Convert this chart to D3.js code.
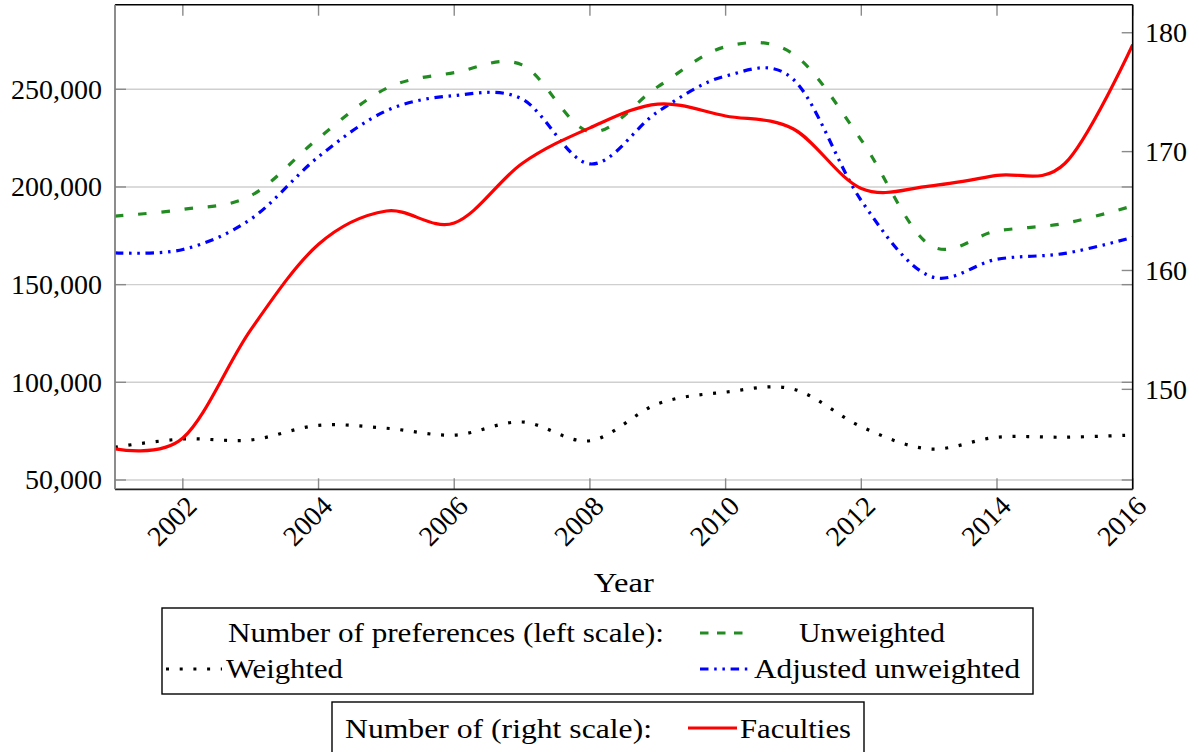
<!DOCTYPE html>
<html><head><meta charset="utf-8">
<script src="https://cdn.jsdelivr.net/npm/d3@7"></script>
</head><body style="margin:0;background:#fff">
<svg id="c" width="1199" height="752" font-family="Liberation Serif" style="font-family: 'Liberation Serif', serif"></svg>
<script>
// ---------- data ----------
const years = [2001,2002,2003,2004,2005,2006,2007,2008,2009,2010,2011,2012,2013,2014,2015,2016];
const weighted   = [66800,71000,70500,78000,76500,73000,79700,70100,89000,95000,96500,77300,65900,71900,71900,73000];
const unweighted = [185100,188500,195500,225000,250500,258500,262500,228300,251300,271800,268000,224000,170500,177500,181400,190300];
const adjusted   = [166300,168000,183500,215500,239000,246800,245000,211800,238500,256800,255000,193000,154500,163000,166000,174200];
const faculties  = [145.0,145.9,155.0,162.2,165.0,164.0,169.0,172.0,174.0,173.0,171.9,166.9,167.1,168.0,169.0,179.0];
const leftTicks  = [50000,100000,150000,200000,250000];
const rightTicks = [150,160,170,180];
const xTicks     = [2002,2004,2006,2008,2010,2012,2014,2016];

// ---------- layout ----------
const L = 115, R = 1132.7, T = 4.7, B = 489.3;
const svg = d3.select("#c");
const x  = d3.scaleLinear().domain([2001,2016]).range([L,R]);
const yL = d3.scaleLinear().domain([45239,293307]).range([B,T]);
const yR = d3.scaleLinear().domain([141.59,182.36]).range([B,T]);
const FS = 28;
const txt = sel => sel.style("font-family","'Liberation Serif', serif").attr("font-family","Liberation Serif").attr("font-size",FS);

svg.append("clipPath").attr("id","clip").append("rect")
  .attr("x",L).attr("y",T).attr("width",R-L).attr("height",B-T);

// grid
svg.append("g").selectAll("line").data(leftTicks).join("line")
  .attr("x1",L).attr("x2",R).attr("y1",d=>yL(d)).attr("y2",d=>yL(d))
  .attr("stroke","#cfcfcf").attr("stroke-width",1.4);

// ticks
const tk = svg.append("g").attr("stroke","#8a8a8a").attr("stroke-width",1.4);
leftTicks.forEach(v=>{
  tk.append("line").attr("x1",L).attr("x2",L+11).attr("y1",yL(v)).attr("y2",yL(v));
  tk.append("line").attr("x1",R-11).attr("x2",R).attr("y1",yL(v)).attr("y2",yL(v));
});
rightTicks.forEach(v=>{
  tk.append("line").attr("x1",R-11).attr("x2",R).attr("y1",yR(v)).attr("y2",yR(v));
});
xTicks.forEach(v=>{
  tk.append("line").attr("x1",x(v)).attr("x2",x(v)).attr("y1",B).attr("y2",B-11);
  tk.append("line").attr("x1",x(v)).attr("x2",x(v)).attr("y1",T).attr("y2",T+11);
});

// lines
const mk = (ys, yscale) => d3.line().curve(d3.curveCardinal.tension(0))
  .x((d,i)=>x(years[i])).y(d=>yscale(d))(ys);
const g = svg.append("g").attr("clip-path","url(#clip)").attr("fill","none");
g.append("path").attr("d",mk(weighted,yL)).attr("stroke","#000").attr("stroke-width",3.2)
  .attr("stroke-dasharray","3,10.7");
g.append("path").attr("d",mk(unweighted,yL)).attr("stroke","#228b22").attr("stroke-width",3.2)
  .attr("stroke-dasharray","8.5,14.8");
g.append("path").attr("d",mk(adjusted,yL)).attr("stroke","#0000ff").attr("stroke-width",3.2)
  .attr("stroke-dasharray","8.5,5.7,2.5,5.7,2.5,5.7");
g.append("path").attr("d",mk(faculties,yR)).attr("stroke","#ff0000").attr("stroke-width",3.2);

// frame
svg.append("line").attr("x1",L).attr("x2",R).attr("y1",T).attr("y2",T).attr("stroke","#000").attr("stroke-width",1.6);
svg.append("line").attr("x1",R).attr("x2",R).attr("y1",T).attr("y2",B).attr("stroke","#000").attr("stroke-width",1.6);
svg.append("line").attr("x1",L).attr("x2",R).attr("y1",B).attr("y2",B).attr("stroke","#222").attr("stroke-width",1.8);
svg.append("line").attr("x1",L).attr("x2",L).attr("y1",T).attr("y2",B).attr("stroke","#808080").attr("stroke-width",1.8);

// tick labels
const fmt = d3.format(",");
svg.append("g").selectAll("text").data(leftTicks).join("text").call(txt)
  .attr("x",102).attr("y",d=>yL(d)).attr("dy","0.33em").attr("text-anchor","end")
  .text(d=>fmt(d));
svg.append("g").selectAll("text").data(rightTicks).join("text").call(txt)
  .attr("x",1145).attr("y",d=>yR(d)).attr("dy","0.33em").attr("text-anchor","start")
  .text(d=>d);
svg.append("g").selectAll("text").data(xTicks).join("text").call(txt)
  .attr("transform",d=>`translate(${x(d)+9},${B+12}) rotate(-45)`)
  .attr("dy","0.33em").attr("text-anchor","end").text(d=>d);

svg.append("text").call(txt).attr("x",(L+R)/2).attr("y",592).attr("text-anchor","middle")
  .attr("textLength",60).attr("lengthAdjust","spacingAndGlyphs").text("Year");

// legend 1
svg.append("rect").attr("x",162).attr("y",608).attr("width",871).attr("height",86)
  .attr("fill","#fff").attr("stroke","#000").attr("stroke-width",1.4);
const lt = (tx,ty,s,w)=>svg.append("text").call(txt).attr("x",tx).attr("y",ty)
  .attr("textLength",w).attr("lengthAdjust","spacingAndGlyphs").text(s);
lt(228,642,"Number of preferences (left scale):",436);
lt(799,642,"Unweighted",146);
lt(226,678,"Weighted",117);
lt(754,678,"Adjusted unweighted",266);
svg.append("line").attr("x1",700).attr("x2",745).attr("y1",633).attr("y2",633)
  .attr("stroke","#228b22").attr("stroke-width",3.2).attr("stroke-dasharray","8.5,8.5");
svg.append("line").attr("x1",166).attr("x2",222).attr("y1",669).attr("y2",669)
  .attr("stroke","#000").attr("stroke-width",3.2).attr("stroke-dasharray","3,10.7");
svg.append("line").attr("x1",700).attr("x2",752).attr("y1",669).attr("y2",669)
  .attr("stroke","#0000ff").attr("stroke-width",3.2).attr("stroke-dasharray","8.5,5.7,2.5,5.7,2.5,5.7");

// legend 2
svg.append("rect").attr("x",332).attr("y",702).attr("width",532).attr("height",70)
  .attr("fill","#fff").attr("stroke","#000").attr("stroke-width",1.4);
lt(345,738,"Number of (right scale):",307);
lt(740,738,"Faculties",111);
svg.append("line").attr("x1",688).attr("x2",737).attr("y1",728).attr("y2",728)
  .attr("stroke","#ff0000").attr("stroke-width",3.2);
</script>
</body></html>
